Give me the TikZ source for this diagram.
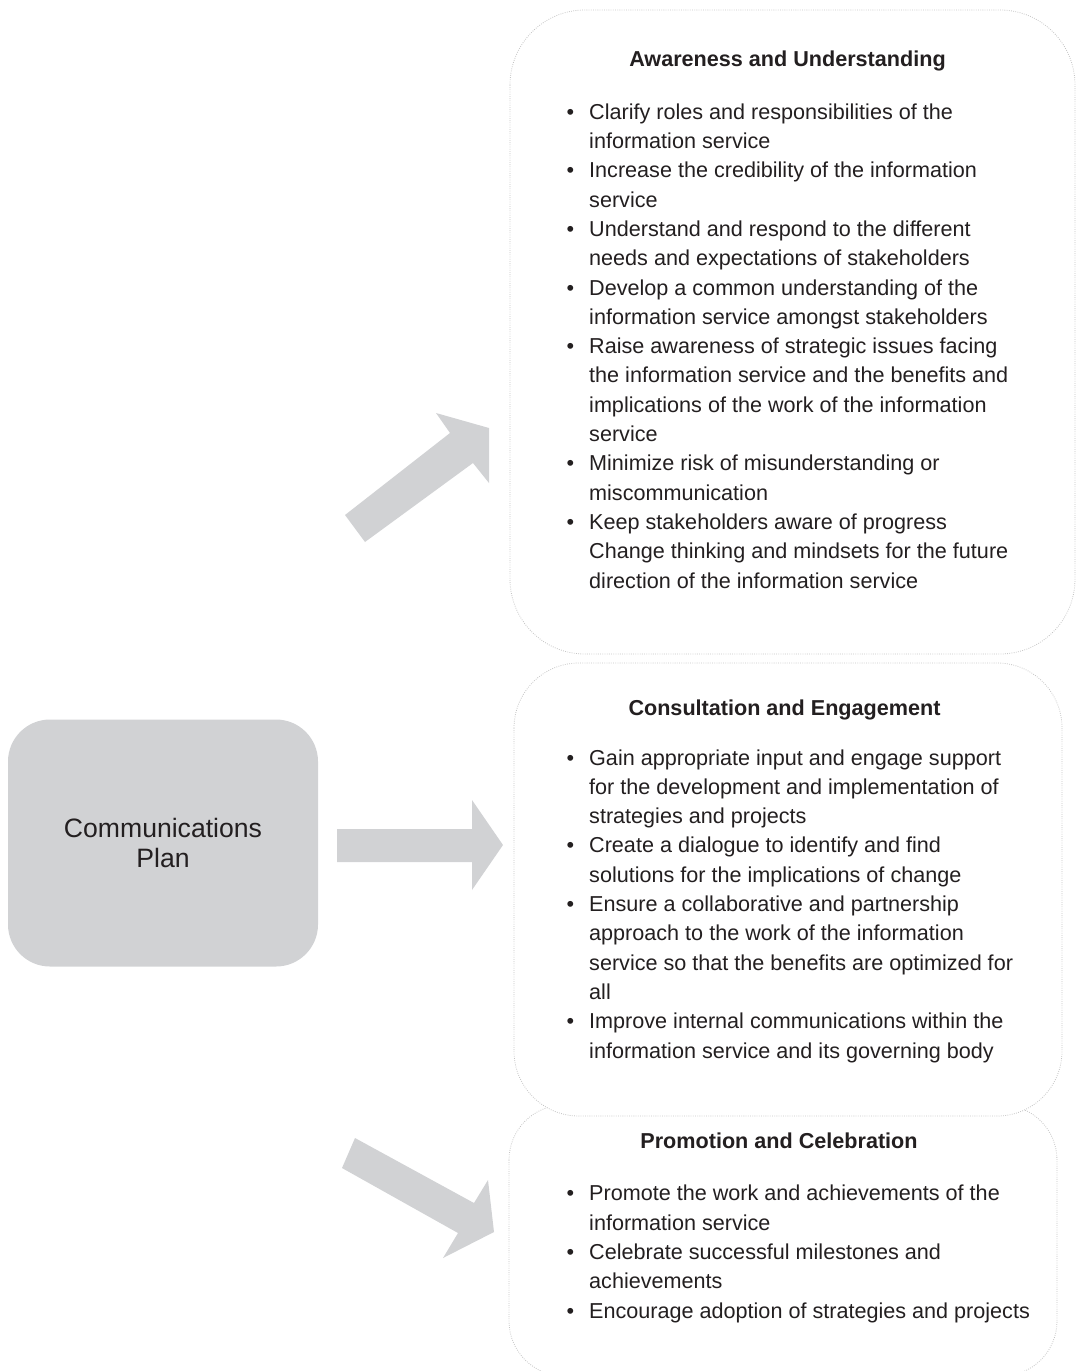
\documentclass[tikz,border=0pt]{standalone}
\usepackage{fontspec}
\setmainfont{Liberation Sans}
\definecolor{ink}{HTML}{231F20}
\definecolor{shade}{HTML}{D1D2D4}
\definecolor{rim}{HTML}{C4C4C4}
% bullet hanging to the left of an item's first line
\newcommand\bitem{\llap{\textbullet\hspace{15pt}}}
\begin{document}
\begin{tikzpicture}[x=1pt,y=-1pt,
  panel/.style={draw=rim, line width=0.8pt, dash pattern=on 0.8pt off 1.4pt, fill=white},
  blockarrow/.style={fill=shade, draw=none},
  heading/.style={anchor=base, inner sep=0pt, text=ink, font=\fontsize{21.6}{29.3}\selectfont\bfseries},
  % multi-line lists are anchored at the baseline of their last line
  itemlist/.style={anchor=base west, inner sep=0pt, align=left, text=ink, font=\fontsize{21.6}{29.3}\selectfont},
  planbox/.style={fill=shade, rounded corners=42pt, minimum width=310pt, minimum height=247pt,
                  align=center, text=ink, font=\fontsize{26.6}{30}\selectfont}
]
\useasboundingbox (0,0) rectangle (1077,1371);

% panels (the lowest one sits under the middle one)
\draw[panel, rounded corners=55pt] (509,1105) rectangle (1057,1376);
\draw[panel, rounded corners=75pt] (510,10) rectangle (1075,654);
\draw[panel, rounded corners=65pt] (514,663) rectangle (1062,1116);

% central box
\node[planbox] (plan) at (163,843) {Communications\\Plan};

% block arrows
\fill[blockarrow] (345,515) -- (450,433) -- (436,413) -- (489,428) -- (489,483) -- (473,463) -- (365,542) -- cycle;
\fill[blockarrow] (337,829) -- (472,829) -- (472,800) -- (503,845) -- (472,890) -- (472,862) -- (337,862) -- cycle;
\fill[blockarrow] (355,1138) -- (474,1203) -- (488,1180) -- (494,1232) -- (443,1258) -- (458,1233) -- (342,1168) -- cycle;

% Awareness and Understanding
\node[heading] (t1) at (787.5,66) {Awareness and Understanding};
\node[itemlist] (l1) at (589,588) {%
\bitem Clarify roles and responsibilities of the\\
information service\\
\bitem Increase the credibility of the information\\
service\\
\bitem Understand and respond to the different\\
needs and expectations of stakeholders\\
\bitem Develop a common understanding of the\\
information service amongst stakeholders\\
\bitem Raise awareness of strategic issues facing\\
the information service and the benefits and\\
implications of the work of the information\\
service\\
\bitem Minimize risk of misunderstanding or\\
miscommunication\\
\bitem Keep stakeholders aware of progress\\
Change thinking and mindsets for the future\\
direction of the information service};

% Consultation and Engagement
\node[heading] (t2) at (784.5,715) {Consultation and Engagement};
\node[itemlist] (l2) at (589,1058) {%
\bitem Gain appropriate input and engage support\\
for the development and implementation of\\
strategies and projects\\
\bitem Create a dialogue to identify and find\\
solutions for the implications of change\\
\bitem Ensure a collaborative and partnership\\
approach to the work of the information\\
service so that the benefits are optimized for\\
all\\
\bitem Improve internal communications within the\\
information service and its governing body};

% Promotion and Celebration
\node[heading] (t3) at (779,1148) {Promotion and Celebration};
\node[itemlist] (l3) at (589,1318) {%
\bitem Promote the work and achievements of the\\
information service\\
\bitem Celebrate successful milestones and\\
achievements\\
\bitem Encourage adoption of strategies and projects};
\end{tikzpicture}
\end{document}
